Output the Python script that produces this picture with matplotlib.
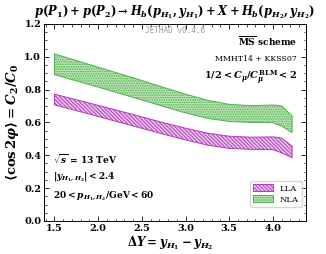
import matplotlib
matplotlib.use("Agg")
import matplotlib.pyplot as plt
from matplotlib.ticker import MultipleLocator
from matplotlib.patches import Patch

plt.rcParams["mathtext.fontset"] = "custom"
plt.rcParams["mathtext.rm"] = "DejaVu Serif:bold"
plt.rcParams["mathtext.bf"] = "DejaVu Serif:bold"
plt.rcParams["mathtext.it"] = "DejaVu Serif:italic:bold"
plt.rcParams["font.family"] = "DejaVu Serif"
plt.rcParams["hatch.linewidth"] = 0.7

# rapidity interval
delta_y = [1.5, 1.75, 2.0, 2.25, 2.5, 2.75, 3.0, 3.25, 3.5, 3.75, 4.0, 4.1, 4.22]

# LLA band (purple)
lla_hi = [0.772, 0.738, 0.704, 0.669, 0.634, 0.598, 0.565, 0.535, 0.516, 0.510, 0.512, 0.505, 0.455]
lla_lo = [0.707, 0.672, 0.636, 0.600, 0.564, 0.528, 0.494, 0.462, 0.442, 0.436, 0.434, 0.415, 0.385]

# NLA band (green)
nla_hi = [1.017, 0.977, 0.936, 0.896, 0.855, 0.813, 0.772, 0.735, 0.710, 0.702, 0.706, 0.700, 0.640]
nla_lo = [0.891, 0.853, 0.815, 0.776, 0.737, 0.697, 0.658, 0.625, 0.606, 0.600, 0.598, 0.578, 0.538]

LLA_EDGE = "#b03cb8"
LLA_FACE = "#e9c6ec"
LLA_HATCH = "\\" * 9
NLA_EDGE = "#4fae4f"
NLA_FACE = "#b9e3b3"
NLA_HATCH = "." * 7

fig = plt.figure(figsize=(3.26, 2.54), dpi=100)
ax = fig.add_axes([0.135, 0.13, 0.804, 0.776])

ax.fill_between(delta_y, lla_lo, lla_hi, facecolor=LLA_FACE, edgecolor=LLA_EDGE,
                hatch=LLA_HATCH, linewidth=0.7)
ax.fill_between(delta_y, nla_lo, nla_hi, facecolor=NLA_FACE, edgecolor=NLA_EDGE,
                hatch=NLA_HATCH, linewidth=0.7)

ax.set_xlim(1.38, 4.38)
ax.set_ylim(0.0, 1.2)
ax.xaxis.set_major_locator(MultipleLocator(0.5))
ax.xaxis.set_minor_locator(MultipleLocator(0.1))
ax.yaxis.set_major_locator(MultipleLocator(0.2))
ax.yaxis.set_minor_locator(MultipleLocator(0.05))
ax.tick_params(which="both", direction="in", top=True, right=True, labelsize=7, pad=2)
ax.tick_params(which="major", length=3.5, width=0.6)
ax.tick_params(which="minor", length=1.8, width=0.5)
for lab in ax.get_xticklabels() + ax.get_yticklabels():
    lab.set_fontweight("bold")
for sp in ax.spines.values():
    sp.set_linewidth(0.7)

ax.set_xlabel(r"$\Delta Y = y_{H_1} - y_{H_2}$", fontsize=8.5)
ax.xaxis.set_label_coords(0.48, -0.068)
ax.set_ylabel(r"$\langle \cos 2\varphi \rangle = C_2/C_0$", fontsize=9.5, labelpad=2)
ax.set_title(r"$p(P_1) + p(P_2) \to H_b(p_{H_1}, y_{H_1}) + X + H_b(p_{H_2}, y_{H_2})$",
             fontsize=8.3, pad=6)

ax.text(0.5, 0.965, "JETHAD v0.4.6", transform=ax.transAxes, ha="center", va="center",
        family="DejaVu Sans Mono", fontsize=5.5, color="#999999")
ax.text(0.965, 0.915, r"$\overline{\rm MS}$ scheme", transform=ax.transAxes, ha="right",
        va="center", fontsize=6.5, fontweight="bold")
ax.text(0.965, 0.82, "MMHT14 + KKSS07", transform=ax.transAxes, ha="right", va="center",
        fontsize=5.6)
ax.text(0.965, 0.73, r"$1/2 < C_\mu/C_\mu^{\rm BLM} < 2$", transform=ax.transAxes,
        ha="right", va="center", fontsize=7)

ax.text(0.035, 0.315, r"$\sqrt{s}$ = 13 TeV", transform=ax.transAxes, ha="left",
        va="center", fontsize=6.5, fontweight="bold")
ax.text(0.035, 0.225, r"$|y_{H_1,H_2}| < 2.4$", transform=ax.transAxes, ha="left",
        va="center", fontsize=6.5)
ax.text(0.035, 0.13, r"$20 < p_{H_1,H_2}/{\rm GeV} < 60$", transform=ax.transAxes,
        ha="left", va="center", fontsize=6.5)

handles = [
    Patch(facecolor=LLA_FACE, edgecolor=LLA_EDGE, hatch=LLA_HATCH, linewidth=0.7, label="LLA"),
    Patch(facecolor=NLA_FACE, edgecolor=NLA_EDGE, hatch=NLA_HATCH, linewidth=0.7, label="NLA"),
]
ax.legend(handles=handles, loc="lower right", fontsize=6, frameon=True, fancybox=True,
          borderpad=0.4, handlelength=2.4, handleheight=0.9, labelspacing=0.3,
          bbox_to_anchor=(1.0, 0.05), edgecolor="#cccccc")

fig.savefig("out.png", dpi=100)
